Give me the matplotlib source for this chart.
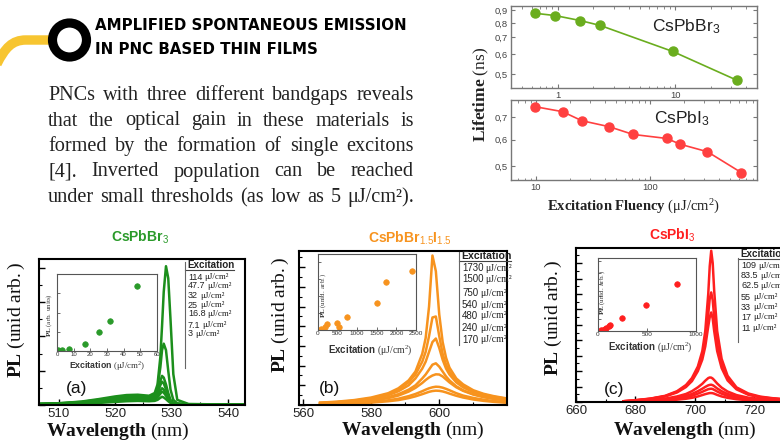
import matplotlib
matplotlib.use("Agg")
import matplotlib.pyplot as plt
from matplotlib.lines import Line2D
from matplotlib.patches import Circle, PathPatch
from matplotlib.path import Path
from matplotlib.ticker import FuncFormatter, FixedLocator, MultipleLocator, NullFormatter, NullLocator

plt.rcParams["font.family"] = ["Liberation Sans", "DejaVu Sans"]
plt.rcParams["mathtext.fontset"] = "custom"
plt.rcParams["mathtext.rm"] = "Liberation Serif"
plt.rcParams["mathtext.it"] = "Liberation Serif:italic"
plt.rcParams["mathtext.bf"] = "Liberation Serif:bold"
plt.rcParams["mathtext.sf"] = "Liberation Sans"

W, H = 780, 444

GREEN = "#1c8f1c"
ORANGE = "#f7931e"
RED = "#ff1f1f"

# ---- lifetime vs fluency (top right)
br_fluency = [0.64, 0.95, 1.55, 2.3, 9.5, 33.6]
br_lifetime = [0.873, 0.855, 0.817, 0.781, 0.616, 0.473]
i_fluency = [9.9, 17.1, 25.2, 44, 71, 140, 185, 319, 632]
i_lifetime = [0.753, 0.728, 0.684, 0.656, 0.622, 0.605, 0.581, 0.552, 0.478]

# ---- (a) CsPbBr3 spectra
wl_a = [506, 510, 514, 517, 520, 522, 524, 526, 527, 527.5, 528, 528.3, 528.6,
        529, 529.4, 529.8, 530.3, 531, 533, 537, 543]
pl_a = [
    [0.03, 0.05, 0.10, 0.17, 0.25, 0.29, 0.30, 0.27, 0.35, 0.60, 1.40, 2.30, 3.30, 4.05, 3.70, 2.50, 0.90, 0.15, 0.03, 0.02, 0.02],
    [0.03, 0.05, 0.09, 0.15, 0.22, 0.26, 0.27, 0.24, 0.30, 0.50, 1.10, 1.60, 1.79, 1.60, 1.00, 0.45, 0.15, 0.05, 0.02, 0.02, 0.02],
    [0.03, 0.04, 0.08, 0.13, 0.19, 0.23, 0.24, 0.21, 0.25, 0.40, 0.70, 0.85, 0.80, 0.60, 0.35, 0.15, 0.06, 0.03, 0.02, 0.02, 0.02],
    [0.03, 0.04, 0.07, 0.12, 0.17, 0.20, 0.21, 0.19, 0.22, 0.33, 0.58, 0.68, 0.63, 0.46, 0.27, 0.12, 0.05, 0.03, 0.02, 0.02, 0.02],
    [0.02, 0.03, 0.06, 0.10, 0.14, 0.17, 0.18, 0.16, 0.19, 0.26, 0.42, 0.49, 0.45, 0.33, 0.20, 0.09, 0.04, 0.02, 0.02, 0.02, 0.02],
    [0.02, 0.03, 0.05, 0.08, 0.12, 0.14, 0.15, 0.14, 0.16, 0.22, 0.33, 0.39, 0.36, 0.27, 0.16, 0.08, 0.03, 0.02, 0.02, 0.02, 0.02],
    [0.02, 0.02, 0.04, 0.06, 0.09, 0.11, 0.12, 0.11, 0.12, 0.15, 0.21, 0.24, 0.22, 0.17, 0.11, 0.06, 0.03, 0.02, 0.02, 0.02, 0.02],
]
exc_a = ["114", "47.7", "32", "25", "16.8", "7.1", "3"]
ins_a_x = [0.8, 3, 7.1, 16.8, 25, 32, 47.7]
ins_a_y = [0.01, 0.013, 0.026, 0.09, 0.25, 0.39, 0.85]

# ---- (b) CsPbBr1.5I1.5 spectra
wl_b = [565, 570, 575, 580, 585, 588, 591, 593, 595, 596, 597, 598, 599, 600,
        601, 602, 603, 605, 607, 610, 613, 616, 620]
pl_b = [
    [0.12, 0.17, 0.25, 0.38, 0.60, 0.85, 1.25, 1.70, 2.60, 3.40, 5.00, 7.60, 6.80, 4.60, 3.20, 2.40, 1.90, 1.35, 1.05, 0.75, 0.57, 0.45, 0.33],
    [0.11, 0.15, 0.22, 0.34, 0.55, 0.78, 1.15, 1.55, 2.20, 2.70, 3.50, 4.45, 4.50, 3.50, 2.60, 2.05, 1.70, 1.25, 0.98, 0.70, 0.53, 0.42, 0.31],
    [0.10, 0.14, 0.20, 0.30, 0.50, 0.70, 1.00, 1.35, 1.85, 2.20, 2.70, 3.20, 3.38, 2.90, 2.30, 1.85, 1.55, 1.15, 0.90, 0.65, 0.50, 0.39, 0.29],
    [0.08, 0.12, 0.17, 0.25, 0.40, 0.55, 0.78, 1.00, 1.35, 1.55, 1.80, 2.05, 2.12, 1.95, 1.70, 1.45, 1.25, 0.95, 0.75, 0.55, 0.42, 0.33, 0.25],
    [0.07, 0.10, 0.15, 0.22, 0.35, 0.48, 0.68, 0.87, 1.12, 1.27, 1.40, 1.50, 1.56, 1.55, 1.45, 1.30, 1.15, 0.90, 0.72, 0.53, 0.40, 0.31, 0.23],
    [0.05, 0.07, 0.10, 0.15, 0.24, 0.32, 0.45, 0.56, 0.70, 0.78, 0.85, 0.90, 0.93, 0.92, 0.88, 0.82, 0.75, 0.60, 0.48, 0.36, 0.27, 0.20, 0.14],
    [0.04, 0.05, 0.08, 0.12, 0.19, 0.25, 0.35, 0.44, 0.55, 0.61, 0.67, 0.71, 0.73, 0.72, 0.69, 0.64, 0.58, 0.47, 0.38, 0.28, 0.21, 0.16, 0.11],
]
exc_b = ["1730", "1500", "750", "540", "480", "240", "170"]
ins_b_x = [70, 170, 240, 480, 540, 750, 1500, 1730, 2400]
ins_b_y = [0.01, 0.045, 0.08, 0.09, 0.045, 0.17, 0.36, 0.63, 0.77]

# ---- (c) CsPbI3 spectra
wl_c = [676, 680, 685, 690, 694, 697, 699, 701, 702.5, 703.5, 704.5, 705, 705.5,
        706, 706.5, 707.5, 709, 711, 714, 718, 722, 726, 730, 735]
pl_c = [
    [0.05, 0.12, 0.22, 0.40, 0.70, 1.10, 1.55, 2.30, 3.30, 4.60, 7.00, 8.80, 9.80, 9.00, 7.20, 4.60, 2.80, 1.70, 0.95, 0.55, 0.35, 0.25, 0.18, 0.13],
    [0.05, 0.11, 0.21, 0.38, 0.66, 1.03, 1.45, 2.15, 3.00, 4.00, 5.70, 6.70, 7.10, 6.60, 5.50, 3.80, 2.45, 1.55, 0.88, 0.50, 0.32, 0.23, 0.17, 0.12],
    [0.05, 0.10, 0.20, 0.36, 0.62, 0.97, 1.35, 2.00, 2.75, 3.60, 4.90, 5.50, 5.80, 5.40, 4.60, 3.30, 2.20, 1.40, 0.82, 0.47, 0.30, 0.21, 0.16, 0.11],
    [0.03, 0.07, 0.13, 0.22, 0.36, 0.52, 0.70, 0.95, 1.18, 1.38, 1.55, 1.59, 1.58, 1.52, 1.42, 1.20, 0.93, 0.68, 0.45, 0.28, 0.19, 0.14, 0.10, 0.08],
    [0.02, 0.05, 0.10, 0.17, 0.28, 0.40, 0.52, 0.70, 0.86, 0.98, 1.08, 1.11, 1.12, 1.09, 1.03, 0.88, 0.70, 0.52, 0.35, 0.22, 0.15, 0.11, 0.08, 0.06],
    [0.015, 0.04, 0.08, 0.13, 0.22, 0.31, 0.40, 0.54, 0.66, 0.75, 0.83, 0.85, 0.86, 0.84, 0.79, 0.68, 0.54, 0.40, 0.27, 0.17, 0.12, 0.085, 0.06, 0.045],
    [0.01, 0.03, 0.05, 0.09, 0.15, 0.21, 0.27, 0.36, 0.45, 0.51, 0.56, 0.58, 0.58, 0.57, 0.54, 0.46, 0.36, 0.27, 0.18, 0.11, 0.08, 0.06, 0.04, 0.03],
]
exc_c = ["109", "83.5", "62.5", "55", "33", "17", "11"]
ins_c_x = [34, 51, 68, 85, 109, 119, 248, 493, 810]
ins_c_y = [0.009, 0.014, 0.032, 0.046, 0.068, 0.078, 0.183, 0.352, 0.648]

BODY = [
    "PNCs with three different bandgaps reveals",
    "that the optical gain in these materials is",
    "formed by the formation of single excitons",
    "[4]. Inverted population can be reached",
    "under small thresholds (as low as 5 μJ/cm²).",
]


def add_px_axes(fig, left, top, right, bottom):
    """axes from a pixel box, origin top-left"""
    return fig.add_axes([left / W, 1 - bottom / H, (right - left) / W, (bottom - top) / H])


def ftext(fig, x, y, s, **kw):
    """figure text at pixel position"""
    return fig.text(x / W, 1 - y / H, s, **kw)


def fline(fig, xs, ys, **kw):
    fig.add_artist(Line2D([x / W for x in xs], [1 - y / H for y in ys],
                          transform=fig.transFigure, **kw))


def justified(fig, lines, x0, x1, y0, dy, **kw):
    """place each line word by word so it fills x0..x1"""
    renderer = fig.canvas.get_renderer()
    for i, line in enumerate(lines):
        words = line.split()
        arts = [ftext(fig, x0, y0 + i * dy, w, va="baseline", **kw) for w in words]
        widths = [a.get_window_extent(renderer).width for a in arts]
        gap = (x1 - x0 - sum(widths)) / (len(words) - 1)
        x = x0
        for art, wd in zip(arts, widths):
            art.set_x(x / W)
            x += wd + gap


def header(fig):
    """yellow stroke, ring and section title"""
    to_in = lambda x, y: (x / 100, (H - y) / 100)
    verts = [to_in(52, 40), to_in(26, 40), to_in(12, 40), to_in(5, 48), to_in(-3, 64)]
    codes = [Path.MOVETO, Path.LINETO, Path.CURVE4, Path.CURVE4, Path.CURVE4]
    fig.add_artist(PathPatch(Path(verts, codes), transform=fig.dpi_scale_trans,
                             fc="none", ec="#f7c531", lw=6.8, capstyle="butt"))
    fig.add_artist(Circle(to_in(69.5, 40), 0.17, transform=fig.dpi_scale_trans,
                          fc="white", ec="black", lw=6.6))
    for y, s in [(25, "AMPLIFIED SPONTANEOUS EMISSION"), (49, "IN PNC BASED THIN FILMS")]:
        ftext(fig, 95, y, s, family="DejaVu Sans", weight="heavy", size=10.8, va="center")


def lifetime_axes(ax, xs, ys, color, xlim, ylim, yticks, xticks, name, name_xy):
    ax.plot(xs, ys, "-o", color=color, lw=1.2, ms=6.5)
    ax.set_xscale("log")
    ax.set_yscale("log")
    ax.set_xlim(*xlim)
    ax.set_ylim(*ylim)
    ax.yaxis.set_major_locator(FixedLocator(yticks))
    ax.yaxis.set_minor_locator(NullLocator())
    ax.yaxis.set_major_formatter(FuncFormatter(lambda v, _: f"{v:.1f}".replace(".", ",")))
    ax.xaxis.set_major_locator(FixedLocator(xticks))
    ax.xaxis.set_major_formatter(FuncFormatter(lambda v, _: f"{v:g}"))
    ax.xaxis.set_minor_formatter(NullFormatter())
    ax.tick_params(which="both", direction="in", top=True, right=True,
                   labelsize=6.8, labelcolor="#444", color="#777", pad=2)
    ax.tick_params(which="major", length=3)
    ax.tick_params(which="minor", length=1.8)
    for sp in ax.spines.values():
        sp.set_color("#777")
        sp.set_linewidth(1)
    ax.text(name_xy[0], name_xy[1], name, transform=ax.transAxes, size=12.5,
            ha="center", va="center", color="#222")


def spectrum_axes(ax, wl, curves, color, xlim, ylim, xmajor, xminor, ymajor):
    for pl in curves:
        ax.plot(wl, pl, color=color, lw=1.8)
    ax.set_xlim(*xlim)
    ax.set_ylim(*ylim)
    ax.xaxis.set_major_locator(MultipleLocator(xmajor))
    ax.xaxis.set_minor_locator(MultipleLocator(xminor))
    ax.yaxis.set_major_locator(MultipleLocator(ymajor))
    ax.yaxis.set_minor_locator(MultipleLocator(ymajor / 2))
    ax.yaxis.set_major_formatter(NullFormatter())
    ax.tick_params(which="both", direction="in", labelsize=9.5, labelcolor="#222", pad=2)
    ax.tick_params(which="major", length=4, width=1)
    ax.tick_params(which="minor", length=2, width=0.8)
    for sp in ax.spines.values():
        sp.set_linewidth(1.5)


def inset_axes(ax, xs, ys, color, xlim, xticks, ystep, labelsize):
    ax.plot(xs, ys, "o", color=color, ms=4, mec=color, mew=0.5)
    ax.set_xlim(*xlim)
    ax.set_ylim(0, 1)
    ax.xaxis.set_major_locator(FixedLocator(xticks))
    ax.yaxis.set_major_locator(MultipleLocator(ystep))
    ax.yaxis.set_major_formatter(NullFormatter())
    ax.tick_params(which="both", direction="in", labelsize=labelsize, labelcolor="#333",
                   length=2, width=0.6, color="#555", pad=1)
    for sp in ax.spines.values():
        sp.set_color("#555")
        sp.set_linewidth(0.8)


def excitation_list(fig, x, y_head, ys, values, line_top, line_bottom, size):
    """underlined header, a bar on the left and one line per fluence"""
    renderer = fig.canvas.get_renderer()
    head = ftext(fig, x + 2, y_head, "Excitation", weight="bold", size=size + 0.6,
                 va="center", color="#222")
    w = head.get_window_extent(renderer).width
    fline(fig, [x, x + 2 + w], [y_head + 5, y_head + 5], color="#444", lw=0.8)
    fline(fig, [x, x], [line_top, line_bottom], color="#666", lw=0.8)
    for y, v in zip(ys, values):
        num = ftext(fig, x + 3, y, v, size=size, va="center", color="#222")
        nw = num.get_window_extent(renderer).width
        ftext(fig, x + 3 + nw + 2, y, "μJ/cm²", size=size, family="Liberation Serif",
              va="center", color="#222")


fig = plt.figure(figsize=(W / 100, H / 100), dpi=100)

header(fig)
justified(fig, BODY, 48, 414, 100, 25.5, family="Liberation Serif", size=14.6, color="#222")

# lifetime plots
ax1 = add_px_axes(fig, 511, 6, 757, 88)
lifetime_axes(ax1, br_fluency, br_lifetime, "#6aad1e", (0.40, 49.6), (0.441, 0.933),
              [0.5, 0.6, 0.7, 0.8, 0.9], [1, 10], r"CsPbBr$_\mathsf{3}$", (0.71, 0.75))
ax2 = add_px_axes(fig, 511, 100, 757, 180)
lifetime_axes(ax2, i_fluency, i_lifetime, "#ff4040", (6.04, 869), (0.454, 0.789),
              [0.5, 0.6, 0.7], [10, 100], r"CsPbI$_\mathsf{3}$", (0.695, 0.77))
ftext(fig, 481, 94, r"$\mathbf{Lifetime}\ \mathrm{(ns)}$", size=12.5, rotation=90,
      ha="center", va="center", color="#222")
ftext(fig, 633, 207, r"$\mathbf{Excitation\ Fluency}\ \mathrm{(μJ/cm^2)}$", size=10.5,
      ha="center", va="center", color="#222")

# (a)
axa = add_px_axes(fig, 39, 259, 245, 405)
spectrum_axes(axa, wl_a, pl_a, GREEN, (506.5, 543), (0, 4.26), 10, 5, 1)
ia = add_px_axes(fig, 57, 274, 157, 351)
inset_axes(ia, ins_a_x, ins_a_y, "#2a9a2a", (0, 60), [0, 10, 20, 30, 40, 50, 60], 0.25, 4.3)
ftext(fig, 140, 237, r"CsPbBr$_\mathsf{3}$", size=10, weight="bold", color="#2a9a2a", ha="center", va="center")
ftext(fig, 107, 365, "Excitation " + r"$\mathrm{(μJ/cm^2)}$", size=6.3, weight="bold", ha="center", va="center", color="#333")
ftext(fig, 49, 315, r"$\mathbf{PL}\ \mathrm{(arb.\ units)}$", size=5, rotation=90, ha="center", va="center", color="#333")
ftext(fig, 77, 388, "(a)", size=12.5, ha="center", va="center", color="#111")
excitation_list(fig, 185, 265, [277, 286, 296, 305, 314, 325, 334], exc_a, 262, 368, 6.5)

# (b)
axb = add_px_axes(fig, 299, 251, 507, 405)
spectrum_axes(axb, wl_b, pl_b, ORANGE, (558.8, 619.9), (0, 7.83), 20, 10, 1)
ib = add_px_axes(fig, 318, 254, 416, 330)
inset_axes(ib, ins_b_x, ins_b_y, ORANGE, (0, 2500), [0, 500, 1000, 1500, 2000, 2500], 0.225, 4.6)
ftext(fig, 410, 238, r"CsPbBr$_\mathsf{1.5}$I$_\mathsf{1.5}$", size=10, weight="bold", color=ORANGE, ha="center", va="center")
ftext(fig, 370, 350, "Excitation " + r"$\mathrm{(μJ/cm^2)}$", size=7, weight="bold", ha="center", va="center", color="#333")
ftext(fig, 323, 295, r"$\mathbf{PL}\ \mathrm{(unid.\ arb.)}$", size=5, rotation=90, ha="center", va="center", color="#333")
ftext(fig, 330, 388, "(b)", size=12.5, ha="center", va="center", color="#111")
excitation_list(fig, 459, 256, [268, 279, 293, 305, 316, 328, 340], exc_b, 252, 345, 7.0)

# (c)
axc = add_px_axes(fig, 576, 248, 798, 402)
spectrum_axes(axc, wl_c, pl_c, RED, (660, 734.7), (0, 9.98), 20, 10, 1)
ic = add_px_axes(fig, 598, 258, 696, 331)
inset_axes(ic, ins_c_x, ins_c_y, RED, (0, 1000), [0, 500, 1000], 0.16, 4.6)
ftext(fig, 672, 235, r"CsPbI$_\mathsf{3}$", size=10, weight="bold", color=RED, ha="center", va="center")
ftext(fig, 650, 347, "Excitation " + r"$\mathrm{(μJ/cm^2)}$", size=7, weight="bold", ha="center", va="center", color="#333")
ftext(fig, 602, 292, r"$\mathbf{PL}\ \mathrm{(unid.\ arb.)}$", size=5, rotation=90, ha="center", va="center", color="#333")
ftext(fig, 614, 389, "(c)", size=12.5, ha="center", va="center", color="#111")
excitation_list(fig, 738, 254, [266, 276, 286, 297, 307, 317, 328], exc_c, 258, 342, 6.5)

# shared axis labels of the spectra
for x, y in [(118, 431), (413, 430), (685, 430)]:
    ftext(fig, x, y, r"$\mathbf{Wavelength}\ \mathrm{(nm)}$", size=14, ha="center", va="center", color="#111")
for x, y in [(16, 320), (280, 315), (553, 318)]:
    ftext(fig, x, y, r"$\mathbf{PL}\ \mathrm{(unid\ arb.)}$", size=14, rotation=90, ha="center", va="center", color="#111")

fig.savefig("out.png", dpi=100)
